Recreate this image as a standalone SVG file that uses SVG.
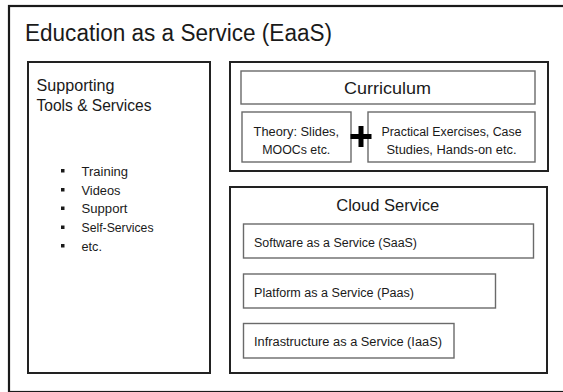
<svg xmlns="http://www.w3.org/2000/svg" width="563" height="392" viewBox="0 0 563 392">
  <style>
    text { font-family: "Liberation Sans", Arial, sans-serif; fill: #1a1a1a; }
    .frame { fill: none; stroke: #1a1a1a; stroke-width: 2.2; }
    .panel { fill: #fff; stroke: #222; stroke-width: 2; }
    .cell { fill: #fff; stroke: #6a6a6a; stroke-width: 1.4; }
    .title { font-size: 23.5px; }
    .head { font-size: 16.5px; }
    .body { font-size: 12.5px; }
    .mid { text-anchor: middle; }
    .bullet { fill: #1a1a1a; }
  </style>

  <rect width="563" height="392" fill="#fff"/>

  <!-- outer frame -->
  <g id="eaas">
    <rect class="frame" x="9" y="6" width="570" height="386"/>
    <text class="title" x="25" y="40.5" textLength="307" lengthAdjust="spacingAndGlyphs">Education as a Service (EaaS)</text>
  </g>

  <!-- left column: supporting tools -->
  <g id="supporting">
    <rect class="panel" x="28" y="62" width="182" height="311"/>
    <text class="head" x="36.5" y="90.5" textLength="78" lengthAdjust="spacingAndGlyphs">Supporting</text>
    <text class="head" x="36.5" y="110.5" textLength="115" lengthAdjust="spacingAndGlyphs">Tools &amp; Services</text>
    <g id="support-list">
      <rect class="bullet" x="61" y="169" width="3.5" height="3.5"/>
      <rect class="bullet" x="61" y="188" width="3.5" height="3.5"/>
      <rect class="bullet" x="61" y="206.5" width="3.5" height="3.5"/>
      <rect class="bullet" x="61" y="225.5" width="3.5" height="3.5"/>
      <rect class="bullet" x="61" y="244" width="3.5" height="3.5"/>
      <text class="body" x="81.5" y="175.5" textLength="46.5" lengthAdjust="spacingAndGlyphs">Training</text>
      <text class="body" x="81.5" y="194.5" textLength="39" lengthAdjust="spacingAndGlyphs">Videos</text>
      <text class="body" x="81.5" y="213" textLength="46" lengthAdjust="spacingAndGlyphs">Support</text>
      <text class="body" x="81.5" y="232" textLength="72" lengthAdjust="spacingAndGlyphs">Self-Services</text>
      <text class="body" x="81.5" y="250.5" textLength="20.5" lengthAdjust="spacingAndGlyphs">etc.</text>
    </g>
  </g>

  <!-- right column, top: curriculum -->
  <g id="curriculum-panel">
    <rect class="panel" x="230" y="62" width="318" height="109"/>
  </g>
  <g id="curriculum">
    <rect class="cell" x="241" y="71" width="294" height="33"/>
    <text class="head mid" x="387.5" y="93.5" textLength="87" lengthAdjust="spacingAndGlyphs">Curriculum</text>
  </g>
  <g id="theory">
    <rect class="cell" x="242" y="112" width="109" height="50"/>
    <text class="body mid" x="296.3" y="136" textLength="85.5" lengthAdjust="spacingAndGlyphs">Theory: Slides,</text>
    <text class="body mid" x="296.3" y="153.5" textLength="68" lengthAdjust="spacingAndGlyphs">MOOCs etc.</text>
  </g>
  <g id="practical">
    <rect class="cell" x="368" y="112" width="167" height="50"/>
    <text class="body mid" x="451.5" y="136" textLength="140" lengthAdjust="spacingAndGlyphs">Practical Exercises, Case</text>
    <text class="body mid" x="451.5" y="153.5" textLength="130" lengthAdjust="spacingAndGlyphs">Studies, Hands-on etc.</text>
  </g>

  <!-- combination marker between theory and practice -->
  <g id="connectors">
    <path d="M350.5 136.5 H371.5 M361 126 V147" stroke="#000" stroke-width="5" fill="none"/>
  </g>

  <!-- right column, bottom: cloud service -->
  <g id="cloud-service">
    <rect class="panel" x="230" y="187" width="317" height="186"/>
    <text class="head mid" x="387.7" y="211" textLength="103" lengthAdjust="spacingAndGlyphs">Cloud Service</text>
  </g>
  <g id="saas">
    <rect class="cell" x="243.5" y="224" width="290" height="34"/>
    <text class="body" x="254" y="246.5" textLength="163" lengthAdjust="spacingAndGlyphs">Software as a Service (SaaS)</text>
  </g>
  <g id="paas">
    <rect class="cell" x="243.5" y="274" width="252" height="34"/>
    <text class="body" x="254" y="296.5" textLength="160" lengthAdjust="spacingAndGlyphs">Platform as a Service (Paas)</text>
  </g>
  <g id="iaas">
    <rect class="cell" x="243.5" y="323.5" width="210.5" height="34.5"/>
    <text class="body" x="254" y="346" textLength="188" lengthAdjust="spacingAndGlyphs">Infrastructure as a Service (IaaS)</text>
  </g>
</svg>
